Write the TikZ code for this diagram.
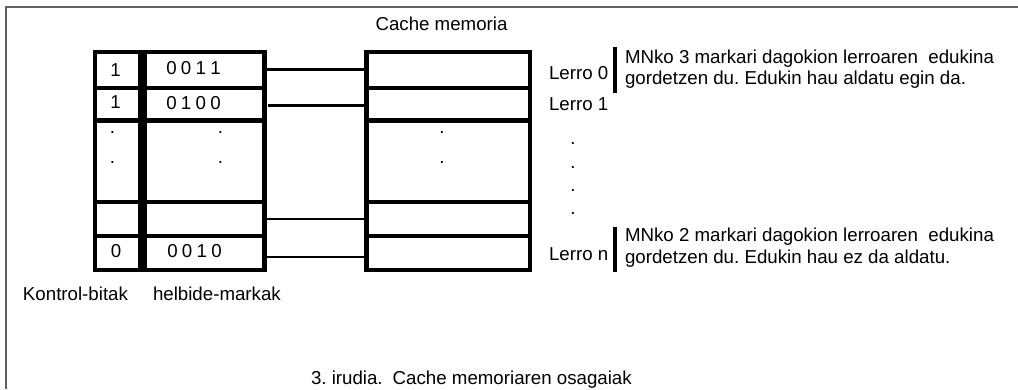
\documentclass[tikz,border=0pt]{standalone}
\usepackage{fontspec}
\setmainfont{Liberation Sans}
\usetikzlibrary{fit}
\definecolor{framegray}{RGB}{96,96,96}
\newcommand\dg{\hspace{4.3pt}}
\frenchspacing
\begin{document}
\begin{tikzpicture}[x=1pt,y=-1pt,
  cell/.style={draw, line width=4.5pt, inner sep=0pt, outer sep=0pt},
  link/.style={line width=2.6pt},
  bar/.style={line width=3.2pt},
  txt/.style={inner sep=0pt, outer sep=0pt, font=\fontsize{18.7}{22}\selectfont},
  dotmark/.style={txt, anchor=base}]
\useasboundingbox (0,0) rectangle (1018,389);

% page frame
\draw[framegray, line width=2pt] (6,389) -- (6,6.5) -- (1018,6.5);

% control bits column
\node[cell, fit={(95,52) (140.5,88)}] (k0) {};
\node[cell, fit={(95,88) (140.5,120.5)}] (k1) {};
\node[cell, fit={(95,120.5) (140.5,202)}] (kd) {};
\node[cell, fit={(95,202) (140.5,236)}] (kb) {};
\node[cell, fit={(95,236) (140.5,270)}] (kn) {};

% address tag column
\node[cell, fit={(145,52) (264.5,88)}] (t0) {};
\node[cell, fit={(145,88) (264.5,120.5)}] (t1) {};
\node[cell, fit={(145,120.5) (264.5,202)}] (td) {};
\node[cell, fit={(145,202) (264.5,236)}] (tb) {};
\node[cell, fit={(145,236) (264.5,270)}] (tn) {};

% cache lines
\node[cell, fit={(366.5,52) (530,88)}] (c0) {};
\node[cell, fit={(366.5,88) (530,120.5)}] (c1) {};
\node[cell, fit={(366.5,120.5) (530,202)}] (cd) {};
\node[cell, fit={(366.5,202) (530,236)}] (cb) {};
\node[cell, fit={(366.5,236) (530,270)}] (cn) {};

% tag-to-line links
\draw[link] ([yshift=0.5pt]t0.east) -- ([yshift=0.5pt]t0.east -| c0.west);
\draw[link] ([xshift=3.5pt,yshift=-1.2pt]t1.east) -- ([yshift=-1.2pt]t1.east -| c1.west);
\draw[link] (tb.east) -- (tb.east -| cb.west);
\draw[link] ([yshift=-4pt]tn.east) -- ([yshift=-4pt]tn.east -| cn.west);

% cell contents
\node[txt, anchor=base] (v0) at (115.5,76) {1};
\node[txt, anchor=base] (v1) at (115.5,108) {1};
\node[txt, anchor=base] (vn) at (116,257.5) {0};
\node[txt, anchor=base] (a0) at (193.5,74) {0\dg0\dg1\dg1};
\node[txt, anchor=base] (a1) at (193.5,109.5) {0\dg1\dg0\dg0};
\node[txt, anchor=base] (an) at (194.5,257.5) {0\dg0\dg1\dg0};

% ellipsis dots inside the table
\node[dotmark] (kd1) at (112.5,133.5) {.};
\node[dotmark] (kd2) at (112.5,163.5) {.};
\node[dotmark] (td1) at (220.5,133.5) {.};
\node[dotmark] (td2) at (220.5,163.5) {.};
\node[dotmark] (cd1) at (442,133.5) {.};
\node[dotmark] (cd2) at (442,163.5) {.};

% titles and line labels
\node[txt, anchor=base] (title) at (441.5,30.5) {Cache memoria};
\node[txt, anchor=base west] (l0) at (549,79.5) {Lerro 0};
\node[txt, anchor=base west] (l1) at (549,110.5) {Lerro 1};
\node[txt, anchor=base west] (ln) at (549,260.5) {Lerro n};
\node[dotmark] (ld1) at (573,144.5) {.};
\node[dotmark] (ld2) at (573,168.5) {.};
\node[dotmark] (ld3) at (573,191.5) {.};
\node[dotmark] (ld4) at (573,214.5) {.};

% notes on lines 0 and n
\coordinate (n0top) at (615,47);
\coordinate (n0bot) at (615,93);
\draw[bar] (n0top) -- (n0bot);
\node[txt, anchor=base west] (n0a) at (625,63) {MNko 3 markari dagokion lerroaren\ \ edukina};
\node[txt, anchor=base west] (n0b) at (625,84) {gordetzen du. Edukin hau aldatu egin da.};

\coordinate (nntop) at (615,227);
\coordinate (nnbot) at (615,272);
\draw[bar] (nntop) -- (nnbot);
\node[txt, anchor=base west] (nna) at (625,241) {MNko 2 markari dagokion lerroaren\ \ edukina};
\node[txt, anchor=base west] (nnb) at (625,263) {gordetzen du. Edukin hau ez da aldatu.};

% column captions and figure caption
\node[txt, anchor=base west] (kcap) at (23,300.5) {Kontrol-bitak};
\node[txt, anchor=base west] (tcap) at (153,300.5) {helbide-markak};
\node[txt, anchor=base west] (fig) at (311,384.5) {3. irudia.\hspace{10pt}Cache memoriaren osagaiak};
\end{tikzpicture}
\end{document}
